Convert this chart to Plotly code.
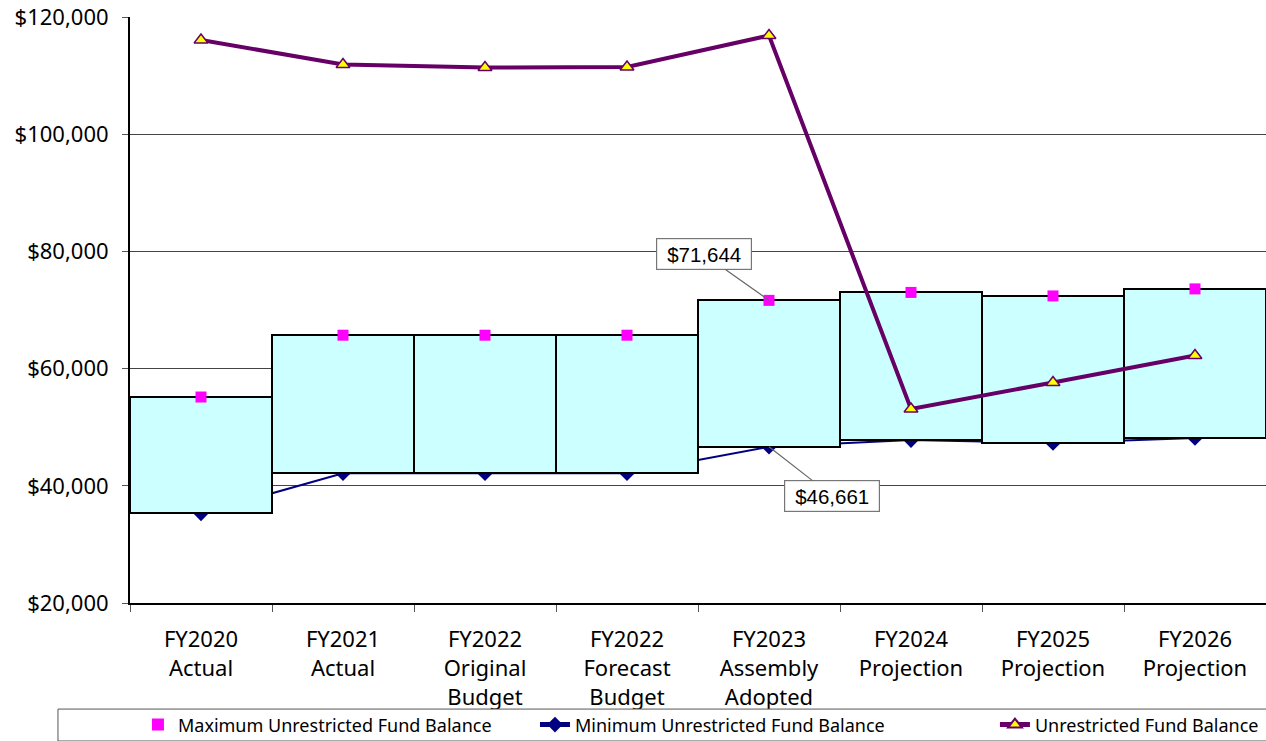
import plotly.graph_objects as go

categories = ["FY2020<br>Actual", "FY2021<br>Actual", "FY2022<br>Original<br>Budget",
              "FY2022<br>Forecast<br>Budget", "FY2023<br>Assembly<br>Adopted",
              "FY2024<br>Projection", "FY2025<br>Projection", "FY2026<br>Projection"]
max_balance = [55150, 65700, 65700, 65700, 71644, 73000, 72400, 73600]
min_balance = [35300, 42150, 42150, 42150, 46661, 47800, 47300, 48150]
unrestricted = [116080, 111890, 111380, 111460, 116840, 53100, 57630, 62240]
y_ticks = [20000, 40000, 60000, 80000, 100000, 120000]

FONT = "Noto Sans"
fig = go.Figure()

# minimum line on base axes (drawn beneath the boxes)
fig.add_trace(go.Scatter(
    x=categories, y=min_balance, mode="lines+markers",
    name="Minimum Unrestricted Fund Balance",
    line=dict(color="#000080", width=2),
    marker=dict(symbol="diamond", size=12, color="#000080"),
    xaxis="x", yaxis="y", legend="legend2"))

# range boxes
fig.add_trace(go.Bar(
    x=categories, y=[mx - mn for mx, mn in zip(max_balance, min_balance)],
    base=min_balance, width=1, showlegend=False,
    marker=dict(color="#CCFFFF", line=dict(color="black", width=2)),
    xaxis="x2", yaxis="y2"))

fig.add_trace(go.Scatter(
    x=categories, y=max_balance, mode="markers",
    name="Maximum Unrestricted Fund Balance",
    marker=dict(symbol="square", size=11, color="#FF00FF"),
    xaxis="x2", yaxis="y2", legend="legend"))

fig.add_trace(go.Scatter(
    x=categories, y=unrestricted, mode="lines+markers",
    name="Unrestricted Fund Balance",
    line=dict(color="#660066", width=4),
    marker=dict(symbol="triangle-up", size=12, color="#FFFF00",
                line=dict(color="#660066", width=1.5)),
    xaxis="x2", yaxis="y2", legend="legend3"))

rng_x = [-0.5, len(categories) - 0.5]
rng_y = [y_ticks[0], y_ticks[-1]]

leg_common = dict(orientation="h", xanchor="left", y=-0.208, yanchor="middle",
                  bgcolor="rgba(0,0,0,0)", borderwidth=0,
                  font=dict(size=18, family=FONT), itemsizing="constant")

fig.update_layout(
    width=1266, height=741,
    margin=dict(l=130, r=0, t=17, b=138, autoexpand=False),
    paper_bgcolor="white", plot_bgcolor="white",
    font=dict(family=FONT, color="black"),
    showlegend=True,
    bargap=0,
    xaxis=dict(type="category", range=rng_x, showline=True, linecolor="black", linewidth=2,
               ticks="outside", tickson="boundaries", ticklen=7, tickcolor="#555",
               tickfont=dict(size=22, family=FONT), ticklabelstandoff=16,
               showgrid=False, fixedrange=True, automargin=False),
    yaxis=dict(range=rng_y, tickvals=y_ticks,
               ticktext=["${:,}".format(v) for v in y_ticks],
               showline=True, linecolor="black", linewidth=2,
               ticks="outside", ticklen=6, tickcolor="#555",
               tickfont=dict(size=22, family=FONT), ticklabelstandoff=9,
               showgrid=True, gridcolor="#444", gridwidth=1, zeroline=False,
               automargin=False),
    xaxis2=dict(type="category", range=rng_x, overlaying="x", visible=False),
    yaxis2=dict(range=rng_y, overlaying="y", visible=False),
    legend=dict(x=0.0070, **leg_common),
    legend2=dict(x=0.3565, **leg_common),
    legend3=dict(x=0.7614, **leg_common),
)

# legend frame
fig.add_shape(type="rect", xref="paper", yref="paper",
              x0=-0.0634, x1=1.01, y0=-0.2355, y1=-0.181,
              fillcolor="white", line=dict(color="#555", width=1), layer="above")

fig.add_annotation(x=categories[4], y=max_balance[4], xref="x2", yref="y2",
                   text="$71,644", showarrow=True, arrowhead=0, arrowcolor="#666",
                   arrowwidth=1.2, ax=-65, ay=-46, width=88, height=24,
                   font=dict(size=20.5, family="Liberation Sans"),
                   bgcolor="white", bordercolor="#777", borderwidth=1.2, borderpad=3)
fig.add_annotation(x=categories[4], y=min_balance[4], xref="x2", yref="y2",
                   text="$46,661", showarrow=True, arrowhead=0, arrowcolor="#666",
                   arrowwidth=1.2, ax=63, ay=49, width=88, height=24,
                   font=dict(size=20.5, family="Liberation Sans"),
                   bgcolor="white", bordercolor="#777", borderwidth=1.2, borderpad=3)

fig.write_html("out.html", config={"displayModeBar": False},
               post_script="document.body.style.margin='0';document.body.style.overflow='hidden';")
